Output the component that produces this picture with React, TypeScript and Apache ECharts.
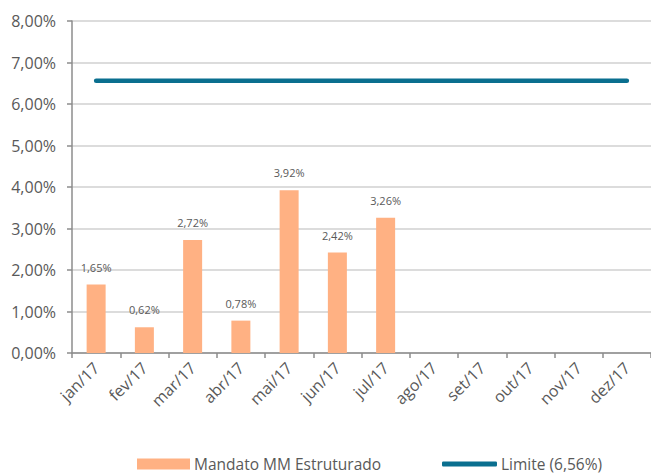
import React, { useEffect, useRef } from "react";
import * as echarts from "echarts";

const months = ["jan/17", "fev/17", "mar/17", "abr/17", "mai/17", "jun/17", "jul/17", "ago/17", "set/17", "out/17", "nov/17", "dez/17"];
const mandato = [1.65, 0.62, 2.72, 0.78, 3.92, 2.42, 3.26, null, null, null, null, null];
const limite = [6.56, 6.56, 6.56, 6.56, 6.56, 6.56, 6.56, 6.56, 6.56, 6.56, 6.56, 6.56];
const seriesNames = ["Mandato MM Estruturado", "Limite (6,56%)"];

const fmt = (v: number) => v.toFixed(2).replace(".", ",") + "%";
const FONT = "Open Sans";
const BAR = "#FFB183";
const LINE = "#0A6F8F";

export default function App() {
  const ref = useRef<HTMLDivElement>(null);
  useEffect(() => {
    const chart = echarts.init(ref.current!, null, { renderer: "svg" });
    const legendText = { fontFamily: FONT, fontSize: 15.5, color: "#595959", padding: [0, 0, 0, -1], lineHeight: 16 };
    chart.setOption({
      animation: false,
      textStyle: { fontFamily: FONT },
      grid: { left: 72, top: 21, width: 583, height: 332, containLabel: false },
      legend: [
        {
          top: 456,
          left: 137,
          padding: 0,
          itemWidth: 53,
          itemHeight: 11,
          textStyle: legendText,
          data: [{ name: seriesNames[0], icon: "rect" }],
        },
        {
          top: 456,
          left: 442,
          padding: 0,
          itemWidth: 55,
          itemHeight: 5,
          textStyle: legendText,
          data: [{ name: seriesNames[1], icon: "roundRect" }],
        },
      ],
      xAxis: {
        type: "category",
        data: months,
        boundaryGap: true,
        axisLine: { lineStyle: { color: "#8c8c8c", width: 1.5 } },
        axisTick: { show: true, length: 5, alignWithLabel: false, lineStyle: { color: "#8c8c8c", width: 1.5 } },
        axisLabel: { rotate: 45, fontSize: 16, color: "#595959", fontFamily: FONT, margin: 12, interval: 0 },
      },
      yAxis: {
        type: "value",
        min: 0,
        max: 8,
        interval: 1,
        axisLine: { show: true, lineStyle: { color: "#8c8c8c", width: 1.5 } },
        axisTick: { show: true, length: 5, lineStyle: { color: "#8c8c8c", width: 1.5 } },
        splitLine: { lineStyle: { color: "#d0d0d0", width: 1.5 } },
        axisLabel: { formatter: (v: number) => fmt(v), fontSize: 16, color: "#595959", fontFamily: FONT, margin: 16 },
      },
      series: [
        {
          name: seriesNames[0],
          type: "bar",
          data: mandato,
          barWidth: 19,
          itemStyle: { color: BAR },
          label: {
            show: true,
            position: "top",
            distance: 12,
            formatter: (p: any) => fmt(p.value),
            fontSize: 11,
            color: "#595959",
            fontFamily: FONT,
          },
        },
        {
          name: seriesNames[1],
          type: "line",
          data: limite,
          showSymbol: false,
          symbol: "none",
          lineStyle: { color: LINE, width: 4.5, cap: "round" },
          itemStyle: { color: LINE },
        },
      ],
    });
    return () => chart.dispose();
  }, []);
  return <div ref={ref} style={{ width: 651, height: 475, position: "absolute", left: 0, top: 0 }} />;
}
